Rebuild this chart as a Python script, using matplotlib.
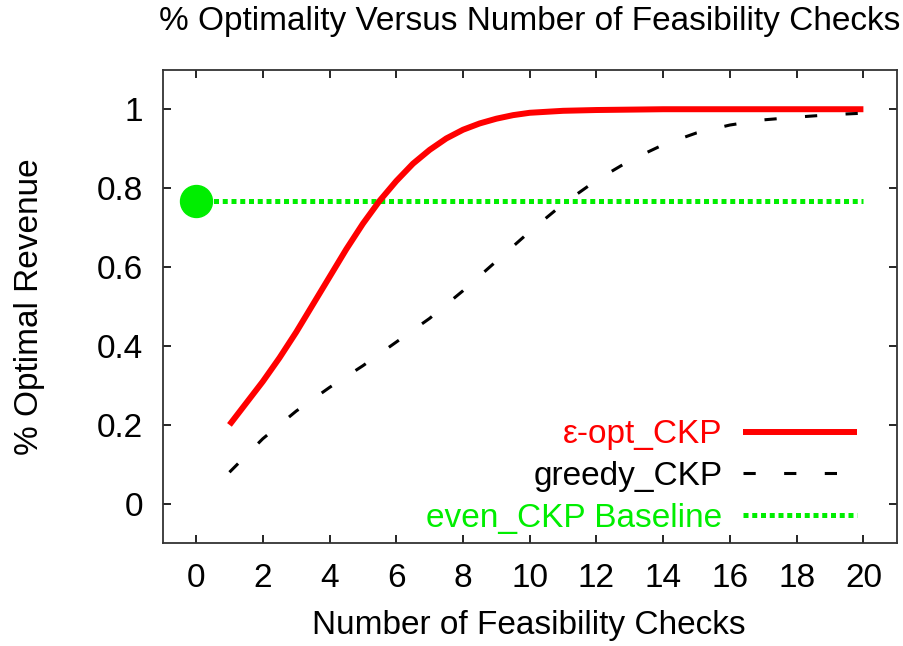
import numpy as np
import matplotlib
matplotlib.use("Agg")
import matplotlib.pyplot as plt

# values
checks = [1, 1.5, 2, 2.5, 3, 3.5, 4, 4.5, 5, 5.5, 6, 6.5, 7, 7.5, 8, 8.5, 9, 9.5, 10,
          11, 12, 13, 14, 15, 16, 17, 18, 19, 20]
eps_opt = [0.20, 0.255, 0.31, 0.37, 0.435, 0.505, 0.575, 0.645, 0.71, 0.768, 0.818, 0.862,
           0.897, 0.926, 0.948, 0.964, 0.976, 0.985, 0.991,
           0.996, 0.998, 0.999, 1.0, 1.0, 1.0, 1.0, 1.0, 1.0, 1.0]
greedy_checks = list(range(1, 21))
greedy = [0.08, 0.165, 0.235, 0.295, 0.35, 0.41, 0.47, 0.54, 0.615, 0.69,
          0.76, 0.82, 0.87, 0.91, 0.94, 0.96, 0.973, 0.98, 0.986, 0.99]
baseline_x = [0, 20]
baseline = [0.768, 0.768]

xticks = list(range(0, 21, 2))
yticks = [0, 0.2, 0.4, 0.6, 0.8, 1]
ytick_labels = ["0", "0.2", "0.4", "0.6", "0.8", "1"]

plt.rcParams['font.family'] = ['Liberation Sans', 'DejaVu Sans']
fs = 24
green = '#00ee00'

fig = plt.figure(figsize=(9.04, 6.46), dpi=100)
ax = fig.add_axes([0.180, 0.159, 0.812, 0.733])

ax.plot(checks, eps_opt, color='#ff0000', lw=4.3, solid_capstyle='butt',
        label='\u03b5-opt_CKP', zorder=3)
ax.plot(greedy_checks, greedy, color='black', lw=2.2, dashes=(4, 9.3),
        dash_capstyle='butt', label='greedy_CKP', zorder=3)
ax.plot(baseline_x, baseline, color=green, lw=3.6, dashes=(1, 0.75),
        dash_capstyle='butt', label='even_CKP Baseline', zorder=2)
ax.plot(baseline_x[:1], baseline[:1], 'o', color=green, ms=23, zorder=4)

ax.set_xlim(-1, 21)
ax.set_ylim(-0.1, 1.1)
ax.set_xticks(xticks)
ax.set_yticks(yticks)
ax.set_yticklabels(ytick_labels)
ax.tick_params(direction='in', length=6, width=1.2, top=True, right=True,
               labelsize=fs)
ax.tick_params(axis='y', pad=14)
ax.tick_params(axis='x', pad=14)
for s in ax.spines.values():
    s.set_linewidth(1.3)
    s.set_color('#333333')

fig.text(0.586, 0.966, '% Optimality Versus Number of Feasibility Checks',
         fontsize=fs, ha='center', va='center')
fig.text(0.585, 0.032, 'Number of Feasibility Checks', fontsize=fs,
         ha='center', va='center')
fig.text(0.033, 0.525, '% Optimal Revenue', fontsize=fs, rotation=90,
         ha='center', va='center')

leg = ax.legend(loc='lower right', bbox_to_anchor=(0.9455, 0.02), frameon=False,
                fontsize=fs, markerfirst=False, handlelength=3.4,
                handletextpad=0.63, labelspacing=0.32, borderpad=0,
                borderaxespad=0)
for t, c in zip(leg.get_texts(), ['#ff0000', 'black', green]):
    t.set_color(c)

fig.savefig('out.png', dpi=100)
